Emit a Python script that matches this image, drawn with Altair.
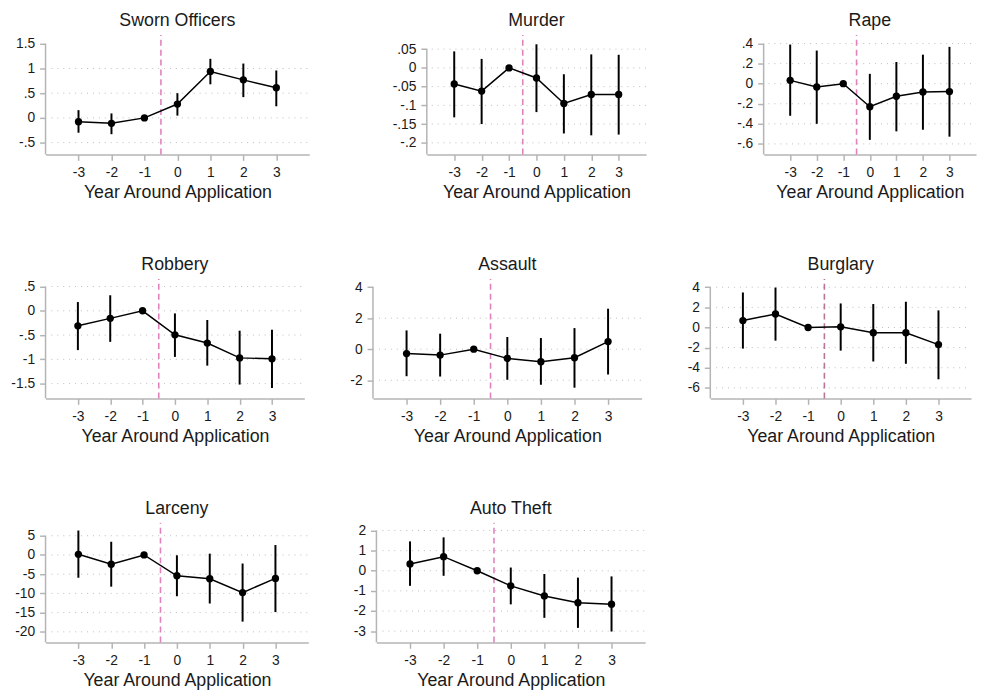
import altair as alt
import pandas as pd

years = [-3, -2, -1, 0, 1, 2, 3]

names = ["Sworn Officers", "Murder", "Rape", "Robbery", "Assault",
         "Burglary", "Larceny", "Auto Theft"]

# point estimates
sworn_coef = [-0.078, -0.11, 0.0, 0.28, 0.94, 0.77, 0.61]
murder_coef = [-0.043, -0.062, 0.0, -0.027, -0.095, -0.071, -0.071]
rape_coef = [0.033, -0.033, 0.0, -0.23, -0.125, -0.082, -0.079]
robbery_coef = [-0.31, -0.156, 0.0, -0.495, -0.665, -0.97, -0.99]
assault_coef = [-0.28, -0.38, 0.0, -0.59, -0.81, -0.55, 0.49]
burglary_coef = [0.69, 1.34, 0.0, 0.066, -0.52, -0.52, -1.70]
larceny_coef = [0.17, -2.41, 0.0, -5.41, -6.19, -9.79, -6.1]
auto_coef = [0.34, 0.70, 0.0, -0.75, -1.25, -1.59, -1.66]

# lower CI bounds (None = reference year, no interval)
sworn_lo = [-0.30, -0.33, None, 0.046, 0.68, 0.42, 0.235]
murder_lo = [-0.132, -0.15, None, -0.118, -0.175, -0.18, -0.178]
rape_lo = [-0.32, -0.40, None, -0.56, -0.475, -0.459, -0.528]
robbery_lo = [-0.81, -0.64, None, -0.95, -1.13, -1.52, -1.59]
assault_lo = [-1.74, -1.76, None, -1.97, -2.29, -2.48, -1.63]
burglary_lo = [-2.1, -1.31, None, -2.30, -3.38, -3.61, -5.15]
larceny_lo = [-5.93, -8.25, None, -10.74, -12.63, -17.35, -14.86]
auto_lo = [-0.75, -0.25, None, -1.67, -2.34, -2.84, -3.02]

# upper CI bounds
sworn_hi = [0.157, 0.09, None, 0.50, 1.196, 1.10, 0.96]
murder_hi = [0.044, 0.024, None, 0.063, -0.017, 0.036, 0.035]
rape_hi = [0.39, 0.33, None, 0.098, 0.216, 0.289, 0.367]
robbery_hi = [0.18, 0.32, None, -0.054, -0.19, -0.41, -0.39]
assault_hi = [1.21, 1.0, None, 0.785, 0.72, 1.36, 2.61]
burglary_hi = [3.48, 3.97, None, 2.39, 2.33, 2.56, 1.70]
larceny_hi = [6.36, 3.44, None, -0.09, 0.34, -2.23, 2.58]
auto_hi = [1.46, 1.66, None, 0.16, -0.16, -0.34, -0.28]

coefs = [sworn_coef, murder_coef, rape_coef, robbery_coef, assault_coef,
         burglary_coef, larceny_coef, auto_coef]
los = [sworn_lo, murder_lo, rape_lo, robbery_lo, assault_lo,
       burglary_lo, larceny_lo, auto_lo]
his = [sworn_hi, murder_hi, rape_hi, robbery_hi, assault_hi,
       burglary_hi, larceny_hi, auto_hi]

# y tick labels
sworn_ticks = [-0.5, 0, 0.5, 1, 1.5]
murder_ticks = [-0.2, -0.15, -0.1, -0.05, 0, 0.05]
rape_ticks = [-0.6, -0.4, -0.2, 0, 0.2, 0.4]
robbery_ticks = [-1.5, -1, -0.5, 0, 0.5]
assault_ticks = [-2, 0, 2, 4]
burglary_ticks = [-6, -4, -2, 0, 2, 4]
larceny_ticks = [-20, -15, -10, -5, 0, 5]
auto_ticks = [-3, -2, -1, 0, 1, 2]
ticks = [sworn_ticks, murder_ticks, rape_ticks, robbery_ticks, assault_ticks,
         burglary_ticks, larceny_ticks, auto_ticks]

# dotted grid lines
grids = [[-0.5, 0, 0.5, 1], murder_ticks, rape_ticks, robbery_ticks,
         [-2, 0, 2], burglary_ticks, larceny_ticks, auto_ticks]

# y scale ranges (plot region)
ydoms = [[-0.74, 1.68], [-0.231, 0.088], [-0.705, 0.486], [-1.805, 0.657],
         [-3.17, 4.53], [-7.05, 4.83], [-22.75, 8.35], [-3.56, 2.38]]

FONT = "Liberation Sans"
AXIS_GRAY = "#b4b4b4"
GRID_GRAY = "#bdbdbd"
PINK = "#e083bd"
MAUVE = "#b87598"
TXT = "#1a1a1a"
dash_colors = [PINK, PINK, PINK, PINK, PINK, MAUVE, PINK, PINK]

YLABEL = "replace(replace(toString(datum.value), '-0.', '-.'), '0.', '.')"


def panel(i, width, height=121):
    ylo, yhi = ydoms[i]
    yt = ticks[i]
    df = pd.DataFrame({"year": years, "coef": coefs[i]})
    ci = pd.DataFrame({
        "year": [y for y, l in zip(years, los[i]) if l is not None],
        "lo": [l for l in los[i] if l is not None],
        "hi": [h for h in his[i] if h is not None],
    })
    one = pd.DataFrame({"k": [0]})
    xs = alt.Scale(domain=[-4, 4], nice=False, zero=False)
    ys = alt.Scale(domain=[ylo, yhi], nice=False, zero=False)
    xaxis = alt.Axis(values=years, title="Year Around Application", grid=False,
                     domainColor=AXIS_GRAY, domainWidth=1.5, tickColor=AXIS_GRAY,
                     tickWidth=1.5, tickSize=6, labelPadding=5, labelFontSize=14,
                     labelFont=FONT, labelColor=TXT, titleFontSize=18,
                     titleFont=FONT, titleFontWeight="normal", titleColor=TXT,
                     titlePadding=5, labelExpr="toString(datum.value)",
                     labelOverlap=False, labelFlush=False)
    yaxis = alt.Axis(values=yt, title=None, grid=False, domain=False,
                     tickColor=AXIS_GRAY, tickWidth=1.5, tickSize=6,
                     labelPadding=5, labelFontSize=14, labelFont=FONT,
                     labelColor=TXT, labelExpr=YLABEL, labelOverlap=False,
                     labelFlush=False)

    def X(f):
        return alt.X(f, scale=xs, axis=xaxis)

    def Y(f):
        return alt.Y(f, scale=ys, axis=yaxis)

    grid = alt.Chart(pd.DataFrame({"g": grids[i]})).mark_rule(
        color=GRID_GRAY, strokeDash=[1, 5], strokeWidth=1
    ).encode(x=alt.XDatum(-3.82, scale=xs, axis=xaxis), x2=alt.datum(4),
             y=Y("g:Q"))
    dash = alt.Chart(one).mark_rule(
        color=dash_colors[i], strokeDash=[6, 4], strokeWidth=1.6
    ).encode(x=alt.XDatum(-0.5, scale=xs, axis=xaxis),
             y=alt.YDatum(ylo, scale=ys, axis=yaxis), y2=alt.datum(yhi))
    yline = alt.Chart(one).mark_rule(color=AXIS_GRAY, strokeWidth=1.5).encode(
        x=alt.XDatum(-4, scale=xs, axis=xaxis),
        y=alt.YDatum(ylo, scale=ys, axis=yaxis), y2=alt.datum(yt[-1]))
    bars = alt.Chart(ci).mark_rule(color="black", strokeWidth=2).encode(
        x=X("year:Q"), y=Y("lo:Q"), y2="hi:Q")
    line = alt.Chart(df).mark_line(color="black", strokeWidth=1.5).encode(
        x=X("year:Q"), y=Y("coef:Q"))
    pts = alt.Chart(df).mark_circle(color="black", opacity=1, size=55).encode(
        x=X("year:Q"), y=Y("coef:Q"))
    return alt.layer(grid, dash, yline, bars, line, pts).properties(
        width=width, height=height,
        title=alt.TitleParams(names[i], fontSize=18, font=FONT,
                              fontWeight="normal", color=TXT, offset=4,
                              anchor="middle"))


row1 = alt.hconcat(panel(0, 267), panel(1, 222), panel(2, 215),
                   spacing=119, bounds="flush")
row2 = alt.hconcat(panel(3, 262), panel(4, 272), panel(5, 264),
                   spacing=69.5, bounds="flush")
row3 = alt.hconcat(panel(6, 266), panel(7, 272),
                   spacing=69, bounds="flush")

chart = alt.vconcat(row1, row2, row3, spacing=55).properties(
    padding={"left": 2, "top": 0, "right": 0, "bottom": 0}
).configure(background="white", view=alt.ViewConfig(stroke=None))

chart.save("out.html", embed_options={"renderer": "svg", "actions": False})
